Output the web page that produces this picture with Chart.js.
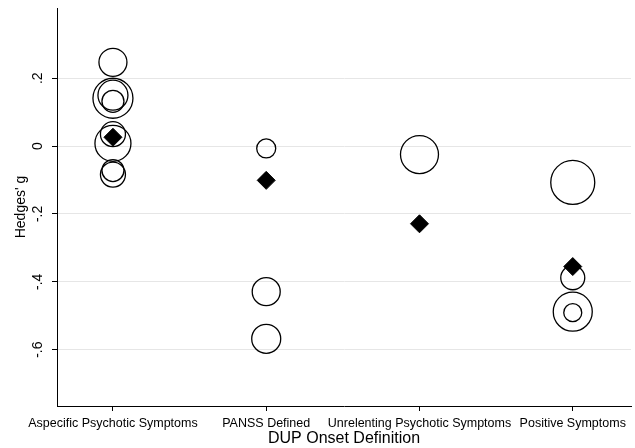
<!DOCTYPE html>
<html>
<head>
<meta charset="utf-8">
<script src="https://cdn.jsdelivr.net/npm/chart.js@4"></script>
<style>
  html, body { margin: 0; padding: 0; background: #fff; }
  #wrap { width: 635px; height: 448px; }
</style>
</head>
<body>
<div id="wrap"><canvas id="chart"></canvas></div>
<script>
const categories = ['Aspecific Psychotic Symptoms', 'PANSS Defined', 'Unrelenting Psychotic Symptoms', 'Positive Symptoms'];

// individual studies: category index (1-based), effect size, study weight (bubble radius)
const studyGroup  = [1, 1, 1, 1, 1, 1, 1, 1, 2, 2, 2, 3, 4, 4, 4, 4];
const studyG      = [0.247, 0.141, 0.15, 0.132, 0.035, 0.008, -0.072, -0.084, -0.007, -0.429, -0.568, -0.025, -0.107, -0.388, -0.488, -0.491];
const studyWeight = [14, 20, 15, 11, 12.5, 18, 11, 12.5, 9.5, 14, 14.5, 19, 22, 12, 19.5, 9];

// pooled estimate per category
const pooledG = [0.026, -0.101, -0.229, -0.355];

const yTicks = [-0.6, -0.4, -0.2, 0, 0.2];

const fmt = v => {
  if (Math.abs(v) < 1e-9) return '0';
  return (v < 0 ? '-' : '') + Math.abs(v).toFixed(1).replace(/^0/, '');
};

const font = "'Liberation Sans', Arial, Helvetica, sans-serif";

new Chart(document.getElementById('chart'), {
  type: 'bubble',
  data: {
    datasets: [
      {
        label: 'Studies',
        data: studyG.map((g, i) => ({x: studyGroup[i], y: g, r: studyWeight[i]})),
        backgroundColor: 'rgba(0,0,0,0)',
        borderColor: '#000',
        borderWidth: 1.3,
        order: 2
      },
      {
        type: 'scatter',
        label: 'Pooled',
        data: pooledG.map((g, i) => ({x: i + 1, y: g})),
        pointStyle: 'rectRot',
        pointRadius: 9,
        backgroundColor: '#000',
        borderColor: '#000',
        borderWidth: 1,
        order: 1
      }
    ]
  },
  options: {
    responsive: true,
    maintainAspectRatio: false,
    animation: false,
    layout: { autoPadding: false, padding: { top: 8, right: 4, left: 0, bottom: 0 } },
    plugins: {
      legend: { display: false },
      tooltip: { enabled: false }
    },
    scales: {
      x: {
        type: 'linear',
        min: 0.635,
        max: 4.38,
        afterBuildTicks: s => { s.ticks = categories.map((c, i) => ({value: i + 1})); },
        afterFit: s => { s.height = 42; s.paddingLeft = 0; s.paddingRight = 0; },
        ticks: {
          callback: v => categories[v - 1],
          color: '#000',
          font: { family: font, size: 12.5 },
          autoSkip: false,
          maxRotation: 0,
          minRotation: 0,
          padding: 5
        },
        grid: { display: true, drawOnChartArea: false, drawTicks: true, tickLength: 5, color: '#000' },
        border: { color: '#000', width: 1 },
        title: {
          display: true,
          text: 'DUP Onset Definition',
          color: '#000',
          font: { family: font, size: 16 },
          padding: { top: 0, bottom: 0 }
        }
      },
      y: {
        min: -0.766,
        max: 0.407,
        afterBuildTicks: s => { s.ticks = yTicks.map(v => ({value: v})); },
        afterFit: s => { s.width = 57; s.paddingTop = 0; s.paddingBottom = 0; },
        ticks: {
          callback: v => fmt(v),
          color: '#000',
          font: { family: font, size: 14 },
          autoSkip: false,
          minRotation: 90,
          maxRotation: 90,
          crossAlign: 'center',
          padding: 6
        },
        grid: { color: '#e6e6e6', lineWidth: 1, tickColor: '#000', tickLength: 5 },
        border: { color: '#000', width: 1 },
        title: {
          display: true,
          text: "Hedges' g",
          color: '#000',
          font: { family: font, size: 14 },
          padding: { top: 13, bottom: 0 }
        }
      }
    }
  }
});
</script>
</body>
</html>
